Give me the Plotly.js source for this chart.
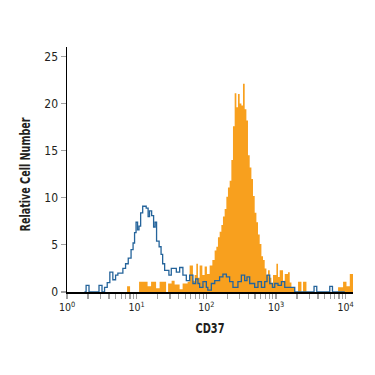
<!DOCTYPE html>
<html>
<head>
<meta charset="utf-8">
<script src="https://cdn.plot.ly/plotly-3.0.1.min.js"></script>
<style>html,body{margin:0;padding:0;background:#fff;}#chart{width:375px;height:375px;}</style>
</head>
<body>
<div id="chart"></div>
<script>
// Isotype control (blue outline): step start positions (fluorescence) and counts
var isoX = [1.78, 1.88, 2.07, 2.88, 3.18, 3.46, 3.78, 4.12, 4.55, 4.98, 5.37, 6.34, 6.93, 7.57, 8.31, 8.88, 9.33, 9.80, 10.3, 10.8, 11.4, 12.2, 13.7, 14.6, 15.3, 16.4, 17.5, 18.4, 19.3, 21.0, 22.4, 23.6, 25.2, 29.0, 31.4, 37.1, 41.4, 46.1, 51.6, 57.6, 64.2, 70.2, 75.8, 80.1, 89.4, 100, 105, 118, 132, 155, 173, 194, 216, 241, 284, 318, 355, 383, 419, 494, 551, 617, 688, 743, 812, 888, 958, 1068, 1196, 1334, 1857, 3516, 3844, 5910, 6462, 9707];
var isoY = [0, 0.7, 0, 0.7, 0, 0.5, 1.0, 2.1, 1.3, 1.8, 2.0, 2.5, 3.0, 3.6, 4.5, 5.2, 6.3, 7.4, 6.6, 7.0, 8.4, 9.1, 8.9, 8.0, 8.6, 8.1, 6.9, 7.4, 5.4, 4.8, 4.0, 3.0, 2.3, 1.8, 2.5, 2.1, 2.6, 1.8, 1.2, 1.8, 0.9, 1.4, 0.9, 0.5, 1.1, 0.5, 0.2, 0.9, 1.2, 1.6, 1.9, 1.6, 1.1, 0.5, 1.1, 1.8, 1.2, 1.6, 0.9, 0.5, 1.1, 0.5, 1.1, 1.8, 0.9, 0.5, 0.9, 0.7, 1.1, 0.5, 0, 0.6, 0, 0.6, 0, 0];

// CD37 stained (orange filled): step start positions (fluorescence) and counts
var cd37X = [7.28, 8.04, 10.83, 14.34, 16.10, 19.0, 21.33, 26.45, 28.26, 31.72, 35.04, 41.35, 45.66, 53.87, 57.56, 64.2, 67.9, 71.8, 75.8, 80.1, 87.6, 94.5, 102.0, 111.5, 122.0, 131.6, 139.2, 146.8, 155.3, 164.3, 173.2, 183.2, 193.8, 204.3, 216.2, 228.7, 241.1, 255.0, 269.8, 284.4, 300.9, 318.4, 335.7, 355.1, 375.5, 396.0, 418.9, 443.2, 467.2, 494.3, 522.9, 551.3, 583.3, 616.9, 650.6, 688.1, 727.9, 767.6, 811.9, 859.0, 905.7, 1013, 1068, 1130, 1261, 1334, 1487, 1573, 1664, 1857, 2071, 2317, 2443, 2734, 7780, 9175, 10268, 11454, 12775];
var cd37Y = [0.6, 0, 1.1, 0.6, 1.1, 0.4, 1.1, 0, 0.9, 1.2, 0.8, 0.3, 0.9, 1.1, 2.8, 1.2, 1.8, 3.0, 1.5, 2.8, 1.8, 2.7, 1.9, 2.8, 3.4, 4.4, 4.8, 5.8, 6.4, 7.1, 8.0, 8.8, 10.1, 11.1, 11.8, 14.0, 17.6, 21.1, 19.6, 21.0, 20.0, 19.8, 22.1, 19.4, 18.2, 14.5, 13.2, 12.0, 10.2, 8.4, 7.4, 6.1, 5.1, 3.8, 3.4, 2.5, 1.8, 2.3, 1.5, 0.9, 1.8, 3.0, 1.6, 2.3, 1.2, 1.9, 2.1, 1.0, 0.5, 0, 1.1, 0, 1.1, 0, 0.5, 1.1, 0.6, 1.9, 0];

var majorTicks = [1, 10, 100, 1000, 10000];
var majorLabels = ['10<sup>0</sup>', '10<sup>1</sup>', '10<sup>2</sup>', '10<sup>3</sup>', '10<sup>4</sup>'];
var minorTicks = [2,3,4,5,6,7,8,9,20,30,40,50,60,70,80,90,200,300,400,500,600,700,800,900,2000,3000,4000,5000,6000,7000,8000,9000];
var yTicks = [0, 5, 10, 15, 20, 25];

var FONT = '"Liberation Sans Narrow", "DejaVu Sans Condensed", "Arial Narrow", sans-serif';

var traces = [
  {
    x: cd37X, y: cd37Y, type: 'scatter', mode: 'lines',
    line: {shape: 'hv', width: 0, color: '#f8a01e'},
    fill: 'tozeroy', fillcolor: '#f8a01e', hoverinfo: 'skip'
  },
  {
    x: isoX, y: isoY, type: 'scatter', mode: 'lines',
    line: {shape: 'hv', width: 1.3, color: '#25649b'}, hoverinfo: 'skip'
  }
];

var layout = {
  width: 375, height: 375,
  margin: {l: 67, r: 22, t: 47, b: 83},
  paper_bgcolor: '#fff', plot_bgcolor: '#fff',
  showlegend: false,
  font: {family: FONT, color: '#231f20', size: 12},
  xaxis: {
    type: 'log', range: [0, 4.105],
    tickmode: 'array', tickvals: majorTicks, ticktext: majorLabels,
    ticks: 'outside', ticklen: 5, tickcolor: '#a0a0a0', tickwidth: 1.2,
    minor: {tickmode: 'array', tickvals: minorTicks, ticks: 'outside', ticklen: 5, tickcolor: '#a0a0a0', tickwidth: 1.2, showgrid: false},
    showline: true, linecolor: '#000', linewidth: 1.5,
    showgrid: false, zeroline: false,
    tickfont: {family: FONT, size: 10.5, color: '#231f20'},
    title: {text: 'CD37', font: {family: FONT, size: 14, weight: 'bold', color: '#231f20'}, standoff: 11}
  },
  yaxis: {
    range: [0, 26],
    tickmode: 'array', tickvals: yTicks,
    ticks: 'outside', ticklen: 5, tickcolor: '#a0a0a0', tickwidth: 1.2,
    showline: true, linecolor: '#000', linewidth: 1.5,
    showgrid: false, zeroline: false,
    tickfont: {family: FONT, size: 12, color: '#231f20'},
    title: {text: 'Relative Cell Number', font: {family: FONT, size: 14, weight: 'bold', color: '#231f20'}, standoff: 10}
  }
};

Plotly.newPlot('chart', traces, layout, {staticPlot: true, displayModeBar: false}).then(function (gd) {
  var yg = gd.querySelector('.g-ytitle');
  if (yg) { yg.setAttribute('transform', 'translate(0,5)'); }
  var yt = gd.querySelector('.g-ytitle text');
  if (yt) { yt.setAttribute('textLength', '114'); yt.setAttribute('lengthAdjust', 'spacingAndGlyphs'); }
  var xt = gd.querySelector('.g-xtitle text');
  if (xt) { xt.setAttribute('textLength', '29'); xt.setAttribute('lengthAdjust', 'spacingAndGlyphs'); }
});
</script>
</body>
</html>
